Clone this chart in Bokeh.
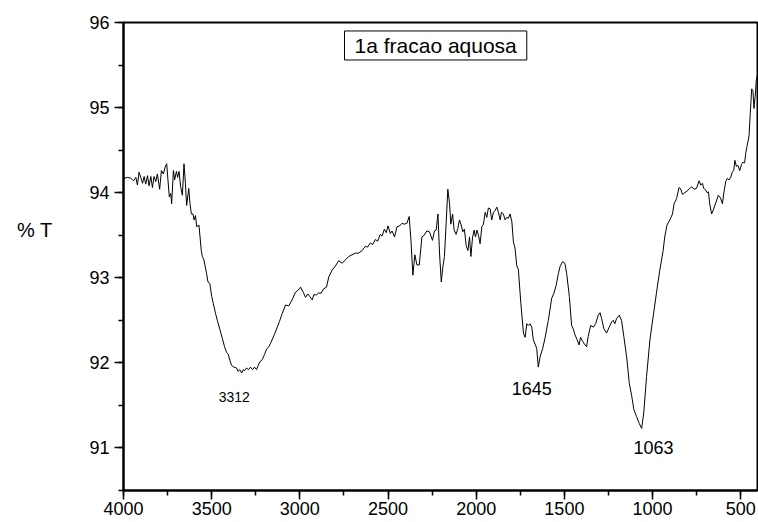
from bokeh.plotting import figure
from bokeh.models import Range1d, SingleIntervalTicker, Label, ColumnDataSource
from bokeh.embed import file_html
from bokeh.resources import INLINE

wavenumber = [
    3997, 3977, 3959, 3943, 3930, 3921, 3912, 3902, 3892, 3883, 3874, 3864, 3855, 3845, 3836, 3827,
    3817, 3808, 3795, 3785, 3774, 3764, 3755, 3748, 3740, 3732, 3727, 3717, 3710, 3700, 3693, 3685,
    3676, 3666, 3657, 3649, 3642, 3630, 3623, 3615, 3606, 3600, 3592, 3585, 3572, 3566, 3559, 3553,
    3544, 3529, 3521, 3510, 3500, 3491, 3478, 3468, 3453, 3440, 3427, 3415, 3406, 3397, 3387, 3374,
    3359, 3351, 3340, 3330, 3321, 3312, 3302, 3291, 3280, 3268, 3257, 3246, 3236, 3227, 3213, 3200,
    3189, 3176, 3166, 3145, 3128, 3115, 3100, 3081, 3063, 3044, 3025, 3012, 2996, 2981, 2968, 2955,
    2944, 2930, 2921, 2906, 2893, 2879, 2865, 2849, 2836, 2817, 2798, 2780, 2760, 2742, 2723, 2704,
    2685, 2667, 2647, 2629, 2616, 2600, 2587, 2572, 2559, 2544, 2534, 2521, 2510, 2500, 2487, 2477,
    2463, 2449, 2434, 2421, 2408, 2393, 2380, 2370, 2359, 2348, 2336, 2323, 2308, 2295, 2280, 2265,
    2248, 2237, 2227, 2217, 2208, 2198, 2189, 2180, 2170, 2161, 2151, 2144, 2134, 2125, 2114, 2104,
    2095, 2085, 2076, 2067, 2057, 2047, 2038, 2030, 2021, 2012, 2004, 1996, 1987, 1978, 1968, 1959,
    1949, 1940, 1931, 1921, 1912, 1902, 1893, 1883, 1874, 1864, 1857, 1846, 1836, 1827, 1817, 1808,
    1798, 1789, 1780, 1770, 1761, 1747, 1732, 1723, 1713, 1704, 1695, 1685, 1676, 1666, 1657, 1648,
    1638, 1623, 1610, 1591, 1572, 1559, 1547, 1534, 1525, 1510, 1497, 1487, 1472, 1459, 1450, 1440,
    1427, 1417, 1408, 1396, 1383, 1374, 1365, 1351, 1336, 1323, 1308, 1298, 1289, 1276, 1261, 1246,
    1232, 1223, 1214, 1204, 1189, 1176, 1163, 1147, 1132, 1119, 1106, 1091, 1076, 1062, 1050, 1034,
    1015, 997, 978, 959, 940, 931, 918, 902, 887, 878, 864, 850, 842, 830, 817, 804,
    789, 778, 765, 751, 736, 727, 717, 710, 698, 691, 683, 676, 665, 653, 642, 627,
    615, 604, 595, 585, 576, 567, 557, 548, 540, 533, 525, 516, 506, 496, 487, 478,
    472, 465, 457, 453, 446, 438, 431, 425, 417, 412, 405,
]

transmittance = [
    94.17, 94.18, 94.17, 94.14, 94.18, 94.09, 94.24, 94.18, 94.11, 94.19, 94.10, 94.20, 94.08, 94.19, 94.06, 94.19,
    94.13, 94.22, 94.04, 94.26, 94.22, 94.30, 94.34, 94.15, 93.95, 93.99, 93.87, 94.26, 94.15, 94.25, 94.18, 94.25,
    94.07, 93.97, 94.34, 94.11, 93.85, 94.05, 93.87, 93.75, 93.75, 93.68, 93.73, 93.60, 93.62, 93.48, 93.32, 93.25,
    93.21, 93.05, 92.95, 92.93, 92.78, 92.70, 92.58, 92.50, 92.39, 92.29, 92.19, 92.12, 92.10, 92.03, 91.97, 91.95,
    91.94, 91.90, 91.92, 91.88, 91.92, 91.91, 91.94, 91.92, 91.95, 91.92, 91.95, 91.92, 91.97, 92.01, 92.04, 92.10,
    92.16, 92.19, 92.23, 92.33, 92.42, 92.49, 92.58, 92.68, 92.67, 92.74, 92.83, 92.85, 92.89, 92.83, 92.77, 92.81,
    92.78, 92.74, 92.80, 92.80, 92.82, 92.82, 92.87, 92.89, 93.01, 93.09, 93.14, 93.20, 93.17, 93.21, 93.25, 93.27,
    93.29, 93.29, 93.32, 93.37, 93.36, 93.41, 93.39, 93.45, 93.43, 93.51, 93.49, 93.57, 93.53, 93.61, 93.52, 93.55,
    93.48, 93.60, 93.61, 93.64, 93.63, 93.64, 93.72, 93.44, 93.03, 93.27, 93.15, 93.15, 93.48, 93.50, 93.55, 93.54,
    93.44, 93.55, 93.56, 93.75, 93.29, 92.95, 93.13, 93.25, 93.66, 94.04, 93.87, 93.63, 93.75, 93.56, 93.51, 93.58,
    93.68, 93.62, 93.54, 93.57, 93.38, 93.32, 93.48, 93.25, 93.47, 93.56, 93.48, 93.56, 93.50, 93.40, 93.60, 93.63,
    93.77, 93.71, 93.82, 93.81, 93.68, 93.77, 93.79, 93.83, 93.77, 93.68, 93.77, 93.75, 93.68, 93.71, 93.70, 93.75,
    93.66, 93.42, 93.35, 93.14, 93.10, 92.70, 92.35, 92.30, 92.46, 92.44, 92.46, 92.42, 92.27, 92.22, 92.17, 91.95,
    92.07, 92.17, 92.29, 92.50, 92.76, 92.82, 92.91, 93.05, 93.13, 93.19, 93.17, 93.05, 92.78, 92.44, 92.40, 92.33,
    92.27, 92.21, 92.30, 92.25, 92.21, 92.19, 92.31, 92.44, 92.42, 92.46, 92.56, 92.59, 92.52, 92.40, 92.35, 92.42,
    92.48, 92.50, 92.46, 92.52, 92.56, 92.50, 92.31, 92.07, 91.76, 91.62, 91.45, 91.37, 91.29, 91.23, 91.41, 91.84,
    92.27, 92.54, 92.82, 93.09, 93.32, 93.48, 93.62, 93.68, 93.75, 93.87, 93.93, 94.06, 94.05, 93.98, 94.00, 94.02,
    94.05, 94.07, 94.04, 94.05, 94.14, 94.09, 94.11, 94.05, 94.03, 94.00, 94.01, 93.87, 93.75, 93.81, 93.88, 93.97,
    93.94, 93.87, 94.01, 94.13, 94.17, 94.15, 94.18, 94.24, 94.26, 94.38, 94.31, 94.32, 94.26, 94.33, 94.36, 94.35,
    94.46, 94.54, 94.62, 94.67, 94.93, 95.22, 95.20, 94.99, 95.16, 95.32, 95.38,
]

title_text = "1a fracao aquosa"
y_title = "% T"
peak_texts = ["3312", "1645", "1063"]

FONT = "Liberation Sans"

p = figure(
    width=758, height=522,
    x_range=Range1d(4000, 405), y_range=Range1d(90.5, 96),
    output_backend="svg", toolbar_location=None,
    min_border_left=123, min_border_right=1, min_border_top=22, min_border_bottom=32,
)
p.background_fill_color = "white"
p.border_fill_color = "white"
p.xgrid.visible = False
p.ygrid.visible = False
p.outline_line_color = "black"
p.outline_line_width = 2

p.xaxis.ticker = SingleIntervalTicker(interval=500, num_minor_ticks=2)
p.yaxis.ticker = SingleIntervalTicker(interval=1, num_minor_ticks=2)
for ax in (p.xaxis[0], p.yaxis[0]):
    ax.axis_line_color = "black"
    ax.axis_line_width = 2
    ax.major_tick_line_color = "black"
    ax.major_tick_line_width = 1.5
    ax.minor_tick_line_color = "black"
    ax.minor_tick_line_width = 1.5
    ax.major_tick_in = 0
    ax.major_tick_out = 9
    ax.minor_tick_in = 0
    ax.minor_tick_out = 5
    ax.major_label_text_font = FONT
    ax.major_label_text_font_size = "18px"
    ax.major_label_text_color = "black"
p.xaxis.major_label_standoff = 2
p.yaxis.major_label_standoff = 5

# horizontal "% T" axis title, lifted above the frame centre by two blank lines
p.yaxis.axis_label = y_title + "\n \n "
p.yaxis.axis_label_orientation = "horizontal"
p.yaxis.axis_label_text_font = FONT
p.yaxis.axis_label_text_font_size = "20px"
p.yaxis.axis_label_text_font_style = "normal"
p.yaxis.axis_label_text_color = "black"
p.yaxis.axis_label_standoff = 34

src = ColumnDataSource(dict(wn=wavenumber, t=transmittance))
p.line("wn", "t", source=src, line_color="black", line_width=1)

# boxed title inside the frame
p.add_layout(Label(x=2230, y=95.73, text=title_text, text_align="center", text_baseline="middle",
                   text_font=FONT, text_font_size="21px", text_color="black",
                   border_line_color="black", border_line_width=1,
                   background_fill_color="white", padding=dict(x=10, y=3)))

# peak annotations
p.add_layout(Label(x=3372, y=91.60, text=peak_texts[0], text_align="center", text_baseline="middle",
                   text_font=FONT, text_font_size="14px", text_color="black"))
p.add_layout(Label(x=1685, y=91.70, text=peak_texts[1], text_align="center", text_baseline="middle",
                   text_font=FONT, text_font_size="18px", text_color="black"))
p.add_layout(Label(x=995, y=91.00, text=peak_texts[2], text_align="center", text_baseline="middle",
                   text_font=FONT, text_font_size="18px", text_color="black"))

open("out.html", "w").write(file_html(p, INLINE))
